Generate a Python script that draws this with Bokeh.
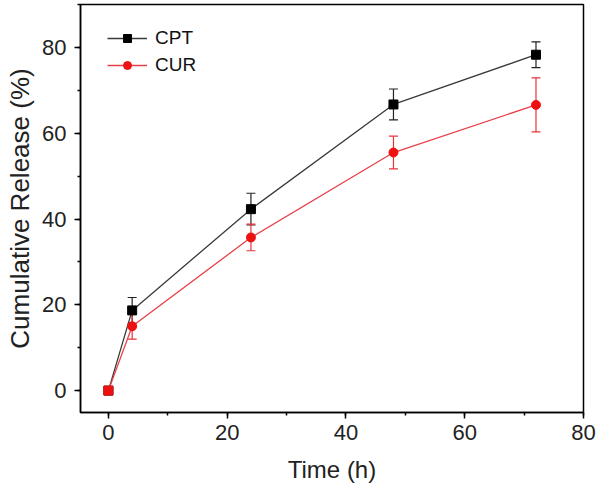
from bokeh.plotting import figure
from bokeh.models import ColumnDataSource, Whisker, TeeHead, Range1d, SingleIntervalTicker, Legend, LegendItem
from bokeh.embed import file_html
from bokeh.resources import INLINE

time_h = [0, 4, 24, 48, 72]
cpt = [0, 18.7, 42.3, 66.7, 78.3]
cpt_err = [0, 3.0, 3.7, 3.6, 3.0]
cur = [0, 15.0, 35.7, 55.5, 66.6]
cur_err = [0, 3.0, 3.1, 3.8, 6.3]
cur_markers = ["square", "circle", "circle", "circle", "circle"]

FONT = "Liberation Sans"

p = figure(width=600, height=492, output_backend="svg", toolbar_location=None,
           x_range=Range1d(-4.7, 80), y_range=Range1d(-5.1, 90),
           min_border_left=80, min_border_right=17, min_border_top=4, min_border_bottom=80)
p.background_fill_color = "white"
p.border_fill_color = "white"
p.grid.visible = False
p.outline_line_color = "black"
p.outline_line_width = 1.5

src_cpt = ColumnDataSource(dict(t=time_h, y=cpt,
                                upper=[v + e for v, e in zip(cpt, cpt_err)],
                                lower=[v - e for v, e in zip(cpt, cpt_err)]))
src_cur = ColumnDataSource(dict(t=time_h, y=cur, m=cur_markers,
                                upper=[v + e for v, e in zip(cur, cur_err)],
                                lower=[v - e for v, e in zip(cur, cur_err)]))

w1 = Whisker(base="t", upper="upper", lower="lower", source=src_cpt, dimension="height",
             line_color="#222222", line_width=1.2,
             upper_head=TeeHead(size=9, line_color="#222222", line_width=1.2),
             lower_head=TeeHead(size=9, line_color="#222222", line_width=1.2))
w2 = Whisker(base="t", upper="upper", lower="lower", source=src_cur, dimension="height",
             line_color="#e8323c", line_width=1.2,
             upper_head=TeeHead(size=9, line_color="#e8323c", line_width=1.2),
             lower_head=TeeHead(size=9, line_color="#e8323c", line_width=1.2))
p.add_layout(w1)
p.add_layout(w2)

l1 = p.line("t", "y", source=src_cpt, line_color="#3a3a3a", line_width=1.3)
s1 = p.scatter("t", "y", source=src_cpt, marker="square", size=9, fill_color="black", line_color="black")
l2 = p.line("t", "y", source=src_cur, line_color="#e8404a", line_width=1.3)
s2 = p.scatter("t", "y", source=src_cur, marker="m", size=9, fill_color="#ee1111", line_color="#ee1111")

legend = Legend(items=[LegendItem(label="CPT", renderers=[l1, s1], index=1),
                       LegendItem(label="CUR", renderers=[l2, s2], index=1)],
                location=(27, 336), orientation="vertical")
legend.border_line_color = None
legend.background_fill_alpha = 0
legend.label_text_font = FONT
legend.label_text_font_size = "19px"
legend.label_text_color = "#111111"
legend.glyph_width = 40
legend.glyph_height = 20
legend.label_height = 20
legend.label_standoff = 8
legend.spacing = 5
legend.padding = 4
legend.margin = 0
p.add_layout(legend)

p.xaxis.ticker = SingleIntervalTicker(interval=20, num_minor_ticks=2)
p.yaxis.ticker = SingleIntervalTicker(interval=20, num_minor_ticks=2)
for ax in (p.xaxis[0], p.yaxis[0]):
    ax.axis_line_color = "black"
    ax.axis_line_width = 1.5
    ax.major_tick_line_color = "black"
    ax.major_tick_line_width = 1.5
    ax.minor_tick_line_color = "black"
    ax.minor_tick_line_width = 1.5
    ax.major_tick_in = 0
    ax.major_tick_out = 6
    ax.minor_tick_in = 0
    ax.minor_tick_out = 3
    ax.major_label_text_font = FONT
    ax.major_label_text_font_size = "22px"
    ax.major_label_text_color = "#222222"
    ax.axis_label_text_font = FONT
    ax.axis_label_text_font_style = "normal"
    ax.axis_label_text_color = "#222222"
p.xaxis.axis_label_text_font_size = "24px"
p.yaxis.axis_label_text_font_size = "26px"
p.xaxis.axis_label = "Time (h)"
p.yaxis.axis_label = "Cumulative Release (%)"
p.xaxis.major_label_standoff = 6
p.yaxis.major_label_standoff = 8
p.xaxis.axis_label_standoff = 13
p.yaxis.axis_label_standoff = 4

open("out.html", "w").write(file_html(p, INLINE))
